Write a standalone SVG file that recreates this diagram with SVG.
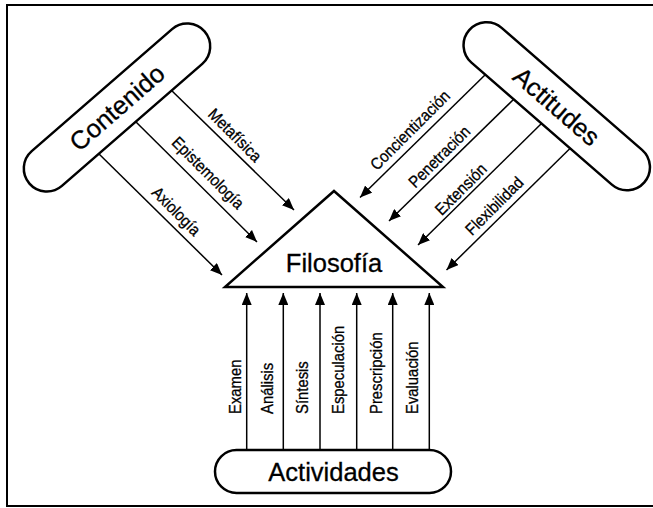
<svg xmlns="http://www.w3.org/2000/svg" width="653" height="508" viewBox="0 0 653 508">
  <style>
    .frame { fill: none; stroke: #000; stroke-width: 2; }
    .node { fill: #fff; stroke: #000; stroke-width: 2.5; }
    .link { fill: none; stroke: #000; stroke-width: 1.5; marker-end: url(#head); }
    .big { font-family: "Liberation Sans", Arial, Helvetica, sans-serif; font-size: 25.5px; fill: #000; stroke: #000; stroke-width: 0.3; text-anchor: middle; }
    .lbl { font-family: "Liberation Sans", Arial, Helvetica, sans-serif; font-size: 16.5px; fill: #000; stroke: #000; stroke-width: 0.3; text-anchor: middle; }
    .vlbl { font-family: "Liberation Sans", Arial, Helvetica, sans-serif; font-size: 16.5px; fill: #000; stroke: #000; stroke-width: 0.3; text-anchor: start; }
  </style>
  <defs>
    <marker id="head" markerUnits="userSpaceOnUse" markerWidth="12" markerHeight="10" refX="12" refY="5" orient="auto">
      <path d="M0,0 L12,5 L0,10 Z" fill="#000"/>
    </marker>
  </defs>

  <rect width="653" height="508" fill="#fff"/>

  <!-- page frame (open on the right) -->
  <path class="frame" d="M653,5 H7 V506 H653"/>

  <!-- connectors -->
  <g id="connectors">
    <!-- Contenido -> Filosofía -->
    <line class="link" x1="169.5" y1="88.5" x2="294" y2="210"/>
    <line class="link" x1="133.5" y1="119.5" x2="257" y2="242"/>
    <line class="link" x1="96.5" y1="151.5" x2="222" y2="275"/>
    <!-- Actitudes -> Filosofía -->
    <line class="link" x1="487" y1="73" x2="360" y2="197.5"/>
    <line class="link" x1="515" y1="98" x2="389" y2="221"/>
    <line class="link" x1="543.5" y1="121.5" x2="418" y2="245"/>
    <line class="link" x1="572" y1="146.5" x2="446.5" y2="270"/>
    <!-- Actividades -> Filosofía -->
    <line class="link" x1="246.7" y1="450" x2="246.7" y2="293"/>
    <line class="link" x1="283.3" y1="450" x2="283.3" y2="293"/>
    <line class="link" x1="320" y1="450" x2="320" y2="293"/>
    <line class="link" x1="356.7" y1="450" x2="356.7" y2="293"/>
    <line class="link" x1="392.7" y1="450" x2="392.7" y2="293"/>
    <line class="link" x1="429.3" y1="450" x2="429.3" y2="293"/>

    <!-- connector labels (narrow setting) -->
    <text class="lbl" transform="translate(235,135) rotate(45) scale(0.9,1)" dy="0.35em">Metafísica</text>
    <text class="lbl" transform="translate(207.5,173.3) rotate(45) scale(0.9,1)" dy="0.3em">Epistemología</text>
    <text class="lbl" transform="translate(175.8,211.7) rotate(45) scale(0.9,1)" dy="0.3em">Axiología</text>

    <text class="lbl" transform="translate(410,130) rotate(-45) scale(0.9,1)" dy="0.35em">Concientización</text>
    <text class="lbl" transform="translate(439.2,156.7) rotate(-45) scale(0.9,1)" dy="0.35em">Penetración</text>
    <text class="lbl" transform="translate(460.8,189.2) rotate(-45) scale(0.9,1)" dy="0.35em">Extensión</text>
    <text class="lbl" transform="translate(494.2,205.8) rotate(-45) scale(0.9,1)" dy="0.35em">Flexibilidad</text>

    <text class="vlbl" transform="translate(241,414) rotate(-90) scale(0.9,1)">Examen</text>
    <text class="vlbl" transform="translate(273,414) rotate(-90) scale(0.9,1)">Análisis</text>
    <text class="vlbl" transform="translate(308,414) rotate(-90) scale(0.9,1)">Síntesis</text>
    <text class="vlbl" transform="translate(344,414) rotate(-90) scale(0.9,1)">Especulación</text>
    <text class="vlbl" transform="translate(382,414) rotate(-90) scale(0.9,1)">Prescripción</text>
    <text class="vlbl" transform="translate(418,414) rotate(-90) scale(0.9,1)">Evaluación</text>
  </g>

  <!-- nodes -->
  <g id="contenido" transform="translate(117,107.5) rotate(-41)">
    <rect class="node" x="-116" y="-23" width="232" height="46" rx="23"/>
    <text class="big" x="0" y="9">Contenido</text>
  </g>

  <g id="actitudes" transform="translate(556.75,106.25) rotate(41)">
    <rect class="node" x="-116" y="-23" width="232" height="46" rx="23"/>
    <text class="big" x="0" y="9">Actitudes</text>
  </g>

  <g id="filosofia">
    <polygon class="node" points="334,191 443,287 225,287" stroke-linejoin="miter"/>
    <text class="big" x="334" y="272">Filosofía</text>
  </g>

  <g id="actividades">
    <rect class="node" x="215" y="450" width="236" height="43" rx="21.5"/>
    <text class="big" x="333.5" y="481">Actividades</text>
  </g>
</svg>
